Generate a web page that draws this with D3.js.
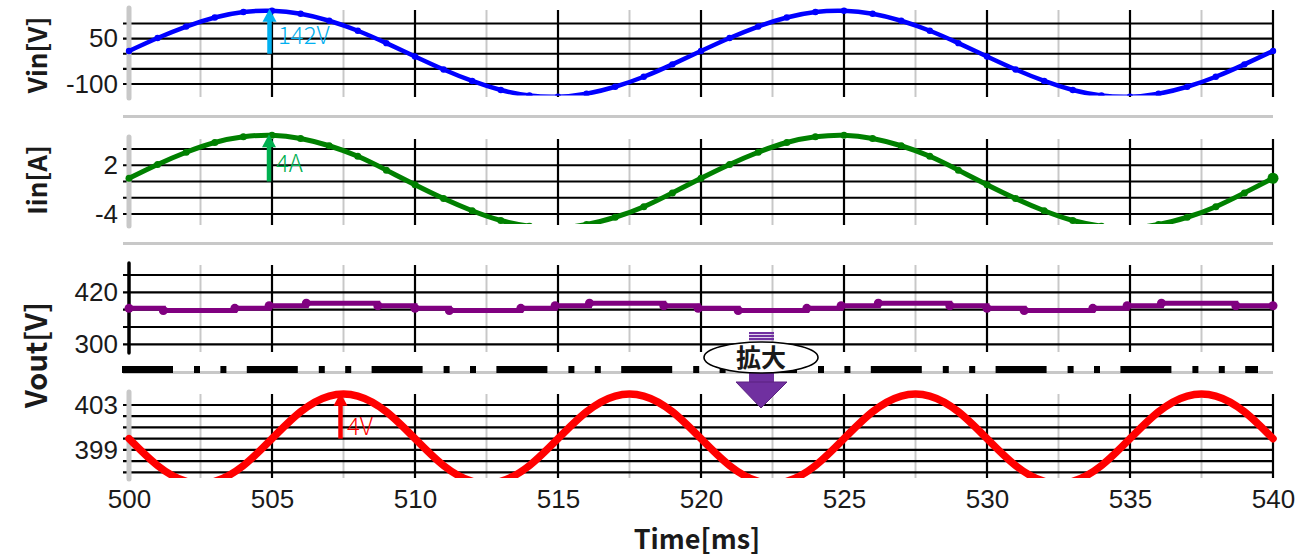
<!DOCTYPE html>
<html>
<head>
<meta charset="utf-8">
<script src="https://cdn.jsdelivr.net/npm/d3@7"></script>
<style>
  body { margin: 0; background: #fff; }
  svg { display: block; font-family: "Noto Sans CJK JP", "Noto Sans", sans-serif; }
  .tick text { font-size: 26px; font-weight: 300; fill: #1a1a1a; }
</style>
</head>
<body>
<svg id="chart" width="1296" height="559"></svg>
<script>
// sample grid in ms (one reading per ms)
const timeMs = d3.range(500, 541);

// input voltage [V]
const vinValues = [9, 52, 90, 120, 138, 142, 132, 109, 76, 35, -9, -52, -90, -120, -138, -142, -132, -109, -76, -35,
  9, 52, 90, 120, 138, 142, 132, 109, 76, 35, -9, -52, -90, -120, -138, -142, -132, -109, -76, -35, 9];

// input current [A]
const iinValues = [0.4, 2.1, 3.6, 4.8, 5.5, 5.7, 5.3, 4.4, 3.1, 1.4, -0.4, -2.1, -3.6, -4.8, -5.5, -5.7, -5.3, -4.4, -3.1, -1.4,
  0.4, 2.1, 3.6, 4.8, 5.5, 5.7, 5.3, 4.4, 3.1, 1.4, -0.4, -2.1, -3.6, -4.8, -5.5, -5.7, -5.3, -4.4, -3.1, -1.4, 0.4];

// output voltage, coarse view (stepped samples)
const voutTimes = [500, 501.2, 503.7, 504.9, 506.2, 508.7, 510.0, 511.2, 513.7, 514.9, 516.1, 518.7,
  519.9, 521.3, 523.7, 524.9, 526.2, 528.7, 530.0, 531.3, 533.7, 534.9, 536.1, 538.7, 540];
const voutValues = [383, 378, 383, 389, 395, 389, 383, 378, 383, 389, 395, 389,
  383, 378, 383, 389, 395, 389, 383, 378, 383, 389, 395, 389, 389];

// output voltage, zoomed view [V]
const voutZoomValues = [400, 397.6, 396.2, 396.2, 397.6, 400, 402.4, 403.8, 403.8, 402.4,
  400, 397.6, 396.2, 396.2, 397.6, 400, 402.4, 403.8, 403.8, 402.4,
  400, 397.6, 396.2, 396.2, 397.6, 400, 402.4, 403.8, 403.8, 402.4,
  400, 397.6, 396.2, 396.2, 397.6, 400, 402.4, 403.8, 403.8, 402.4, 400];

// axis ticks
const xTicks = [500, 505, 510, 515, 520, 525, 530, 535, 540];
const xGrid = d3.range(500, 540.1, 2.5);
const vinGrid = [100, 50, 0, -50, -100];
const vinLabels = [50, -100];
const iinGrid = [4, 2, 0, -2, -4];
const iinLabels = [2, -4];
const voutGrid = [460, 420, 380, 340, 300];
const voutLabels = [420, 300];
const voutZoomGrid = [403, 402, 401, 400, 399, 398, 397];
const voutZoomLabels = [403, 399];

// annotations
const vinPeak = 142, iinPeak = 5.7, rippleTop = 404, rippleMid = 400;

const svg = d3.select("#chart");
const x = d3.scaleLinear().domain([500, 540]).range([129, 1273]);
const left = 123, right = 1273;

const panels = [
  { id: "vin", y: d3.scaleLinear().domain([100, -100]).range([23.5, 84]), grid: vinGrid, labels: vinLabels,
    top: 10, bottom: 97, clipBottom: 95.5, axis: "#c8c8c8", axisW: 5 },
  { id: "iin", y: d3.scaleLinear().domain([4, -4]).range([149, 214]), grid: iinGrid, labels: iinLabels,
    top: 139, bottom: 225, clipBottom: 224, axis: "#c8c8c8", axisW: 5 },
  { id: "vout", y: d3.scaleLinear().domain([460, 300]).range([275, 344.3]), grid: voutGrid, labels: voutLabels,
    top: 265, bottom: 352, clipBottom: 360, axis: "#000", axisW: 3.5 },
  { id: "vz", y: d3.scaleLinear().domain([403, 397]).range([405, 472.3]), grid: voutZoomGrid, labels: voutZoomLabels,
    top: 394, bottom: 478, clipBottom: 478, axis: "#c8c8c8", axisW: 5 }
];

// gray separators between the panels
[116.5, 243.5, 372.5].forEach(yy => {
  svg.append("line").attr("x1", left).attr("x2", right).attr("y1", yy).attr("y2", yy)
    .attr("stroke", "#c8c8c8").attr("stroke-width", 3);
});

panels.forEach(p => {
  const g = svg.append("g");

  // vertical grid
  g.selectAll(".vg").data(xGrid.filter(t => t > 500)).enter().append("line")
    .attr("x1", d => x(d)).attr("x2", d => x(d))
    .attr("y1", p.top).attr("y2", p.bottom)
    .attr("stroke", d => d % 5 === 0 ? "#000" : "#c8c8c8")
    .attr("stroke-width", d => d % 5 === 0 ? 2.2 : 2);

  // horizontal grid
  g.selectAll(".hg").data(p.grid).enter().append("line")
    .attr("x1", left).attr("x2", right)
    .attr("y1", d => p.y(d)).attr("y2", d => p.y(d))
    .attr("stroke", "#000").attr("stroke-width", 2.2);

  // left axis line
  g.append("line").attr("x1", x(500)).attr("x2", x(500))
    .attr("y1", p.top - 2).attr("y2", p.bottom + 1)
    .attr("stroke", p.axis).attr("stroke-width", p.axisW).attr("stroke-linecap", "round");

  // tick labels
  const ax = g.append("g").attr("transform", `translate(${left},0)`)
    .call(d3.axisLeft(p.y).tickValues(p.labels).tickSize(0).tickPadding(5).tickFormat(d => String(d)));
  ax.select(".domain").remove();

  svg.append("clipPath").attr("id", "clip-" + p.id).append("rect")
    .attr("x", 0).attr("y", 0).attr("width", 1296).attr("height", p.clipBottom);
});

const [pVin, pIin, pVout, pVz] = panels;

// Vin
const gVin = svg.append("g").attr("clip-path", "url(#clip-vin)");
gVin.append("path").datum(timeMs.map((t, i) => [t, vinValues[i]]))
  .attr("fill", "none").attr("stroke", "#0000ff").attr("stroke-width", 4.5)
  .attr("stroke-linejoin", "round").attr("stroke-linecap", "round")
  .attr("d", d3.line().x(d => x(d[0])).y(d => pVin.y(d[1])).curve(d3.curveNatural));
gVin.selectAll("circle").data(timeMs.map((t, i) => [t, vinValues[i]])).enter().append("circle")
  .attr("cx", d => x(d[0])).attr("cy", d => pVin.y(d[1])).attr("r", 3.2).attr("fill", "#0000ff");

// Iin
const gIin = svg.append("g").attr("clip-path", "url(#clip-iin)");
gIin.append("path").datum(timeMs.map((t, i) => [t, iinValues[i]]))
  .attr("fill", "none").attr("stroke", "#008000").attr("stroke-width", 5)
  .attr("stroke-linejoin", "round").attr("stroke-linecap", "round")
  .attr("d", d3.line().x(d => x(d[0])).y(d => pIin.y(d[1])).curve(d3.curveNatural));
gIin.selectAll("circle").data(timeMs.map((t, i) => [t, iinValues[i]])).enter().append("circle")
  .attr("cx", d => x(d[0])).attr("cy", d => pIin.y(d[1]))
  .attr("r", (d, i) => i === timeMs.length - 1 ? 5.5 : 3.5).attr("fill", "#008000");

// Vout coarse
const gVout = svg.append("g").attr("clip-path", "url(#clip-vout)");
const voutPts = voutTimes.map((t, i) => [t, voutValues[i]]);
gVout.append("path").datum(voutPts)
  .attr("fill", "none").attr("stroke", "#800080").attr("stroke-width", 5)
  .attr("d", d3.line().x(d => x(d[0])).y(d => pVout.y(d[1])).curve(d3.curveStepAfter));
gVout.selectAll("circle").data(voutPts).enter().append("circle")
  .attr("cx", d => x(d[0])).attr("cy", d => pVout.y(d[1])).attr("r", 4.5).attr("fill", "#800080");

// Vout zoomed
const gVz = svg.append("g").attr("clip-path", "url(#clip-vz)");
gVz.append("path").datum(timeMs.map((t, i) => [t, voutZoomValues[i]]))
  .attr("fill", "none").attr("stroke", "#ff0000").attr("stroke-width", 7.5)
  .attr("stroke-linejoin", "round").attr("stroke-linecap", "round")
  .attr("d", d3.line().x(d => x(d[0])).y(d => pVz.y(d[1])).curve(d3.curveNatural));

// x axis
const xa = svg.append("g").attr("transform", `translate(0,${pVz.bottom})`)
  .call(d3.axisBottom(x).tickValues(xTicks).tickSize(0).tickPadding(11.5));
xa.select(".domain").remove();

// axis titles
svg.append("text").attr("x", 697).attr("y", 549).attr("text-anchor", "middle")
  .attr("font-size", 27).attr("font-weight", 700).attr("fill", "#1a1a1a").text("Time[ms]");
[["Vin[V]", 55, 26], ["Iin[A]", 180, 26], ["Vout[V]", 355, 29]].forEach(([t, cy, fs]) => {
  svg.append("text").attr("transform", `translate(47,${cy}) rotate(-90)`)
    .attr("text-anchor", "middle").attr("font-size", fs).attr("font-weight", 700)
    .attr("fill", "#1a1a1a").text(t);
});

// arrows with amplitude labels
function arrow(xc, y0, y1, color, label, lx, ly) {
  const head = 13, hw = 7;
  svg.append("line").attr("x1", xc).attr("x2", xc).attr("y1", y0).attr("y2", y1 + head - 1)
    .attr("stroke", color).attr("stroke-width", 4.5);
  svg.append("path")
    .attr("d", `M${xc - hw},${y1 + head}L${xc + hw},${y1 + head}L${xc},${y1}Z`)
    .attr("fill", color);
  svg.append("text").attr("x", lx).attr("y", ly).attr("font-size", 24).attr("font-weight", 300)
    .attr("fill", color).text(label);
}
arrow(x(505) - 2.5, pVin.y(0), pVin.y(vinPeak) - 2, "#00b0f0", "142V", 278, 44);
arrow(x(505) - 3, pIin.y(0), pIin.y(iinPeak) - 1, "#00b050", "4A", 276, 172);
arrow(x(507.5) - 3, pVz.y(rippleMid), pVz.y(rippleTop) - 1, "#ff0000", "4V", 347, 435);

// dash-dot break line between the coarse and zoomed views
svg.append("line").attr("x1", 122).attr("x2", 1258).attr("y1", 369.5).attr("y2", 369.5)
  .attr("stroke", "#000").attr("stroke-width", 7).attr("stroke-dasharray", "51,21,6,20.4,6,20.4");

// "拡大" callout
const cx = 761;
[333, 336, 339].forEach(yy => {
  svg.append("rect").attr("x", cx - 12).attr("y", yy - 1).attr("width", 25).attr("height", 2.2).attr("fill", "#7030a0");
});
svg.append("rect").attr("x", cx - 12).attr("y", 370).attr("width", 25).attr("height", 14).attr("fill", "#7030a0");
svg.append("path").attr("d", `M${cx - 25},382L${cx + 26},382L${cx},408Z`)
  .attr("fill", "#7030a0").attr("stroke", "#5a2080").attr("stroke-width", 1);
svg.append("ellipse").attr("cx", cx).attr("cy", 357.5).attr("rx", 57).attr("ry", 15.5)
  .attr("fill", "#fff").attr("stroke", "#000").attr("stroke-width", 1.6);
svg.append("text").attr("x", cx).attr("y", 366.5).attr("text-anchor", "middle")
  .attr("font-size", 25).attr("font-weight", 700).attr("fill", "#1a1a1a").text("拡大");
</script>
</body>
</html>
